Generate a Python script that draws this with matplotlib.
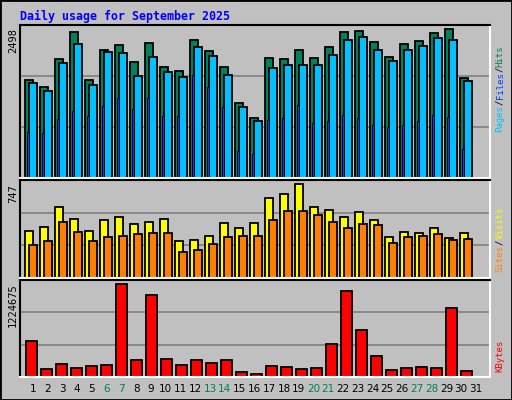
import numpy as np
import matplotlib
matplotlib.use("Agg")
import matplotlib.pyplot as plt

days = list(range(1, 32))
hits = [1652, 1534, 2007, 2447, 1652, 2159, 2227, 1956, 2261, 1872, 1804, 2312, 2126, 1872, 1263, 1010,
        2024, 2007, 2143, 2024, 2193, 2447, 2464, 2278, 2041, 2244, 2295, 2430, 2498, 1686, 0]
files = [1601, 1466, 1940, 2244, 1568, 2109, 2092, 1720, 2041, 1787, 1703, 2193, 2058, 1737, 1196, 959,
         1855, 1906, 1906, 1906, 2075, 2312, 2362, 2159, 1973, 2143, 2210, 2345, 2312, 1635, 0]
pages = [773, 756, 993, 1128, 1043, 1212, 1348, 1162, 1348, 1043, 1043, 1737, 1534, 1196, 451, 401,
         976, 1010, 1229, 925, 959, 1060, 1010, 891, 857, 891, 959, 1060, 1026, 485, 0]
visits = [374, 406, 568, 471, 374, 463, 487, 430, 447, 471, 292, 300, 333, 438, 398, 438,
          633, 666, 747, 568, 544, 487, 528, 463, 325, 365, 357, 398, 317, 357, 0]
sites = [260, 292, 447, 365, 292, 325, 333, 349, 357, 357, 203, 219, 268, 325, 333, 333,
         463, 536, 536, 503, 447, 398, 430, 422, 276, 325, 333, 349, 300, 309, 0]
kbytes = [471000, 108000, 175000, 121000, 148000, 161000, 1224675, 229000, 1077000, 242000, 161000,
          229000, 188000, 229000, 67000, 40000, 148000, 135000, 108000, 121000, 431000, 1130000,
          619000, 283000, 94000, 121000, 135000, 121000, 915000, 81000, 0]
weekend = [6, 7, 13, 14, 20, 21, 27, 28]

W, H = 512, 400
BG = "#C0C0C0"
fig = plt.figure(figsize=(W / 100, H / 100), dpi=100, facecolor=BG)

def px_axes(x0, y0, x1, y1):
    # pixel box (top-left origin) -> figure axes
    ax = fig.add_axes([x0 / W, 1 - y1 / H, (x1 - x0) / W, (y1 - y0) / H])
    ax.set_facecolor(BG)
    ax.set_xticks([])
    ax.set_yticks([])
    for s in ["top", "left"]:
        ax.spines[s].set_color("black")
        ax.spines[s].set_linewidth(1.5)
    for s in ["bottom", "right"]:
        ax.spines[s].set_color("white")
        ax.spines[s].set_linewidth(1.5)
    ax.set_xlim(0, 470 / 15)
    return ax

x = np.arange(31)
mono = "DejaVu Sans Mono"
LW = 1.3

def panel(ax, height_px, max_px, vmax):
    top = vmax * height_px / max_px
    ax.set_ylim(0, top)
    for f in (1 / 3, 2 / 3):
        ax.axhline(top * f, color="#808080", lw=1.2, zorder=0)

# top panel
ax1 = px_axes(20, 25, 490, 178)
panel(ax1, 152, 147.7, max(hits))
ax1.bar(x + 0.333, hits, width=0.52, align="edge", color="#00805C", edgecolor="black", lw=LW)
ax1.bar(x + 0.62, files, width=0.5, align="edge", color="#00C0FF", edgecolor="black", lw=LW)
ax1.bar(x + 0.46, pages, width=0.14, align="edge", color="#0040FF", edgecolor="black", lw=0.7)

# middle panel
ax2 = px_axes(20, 180, 490, 278)
panel(ax2, 96, 92, max(visits))
ax2.bar(x + 0.333, visits, width=0.55, align="edge", color="#FFFF00", edgecolor="black", lw=LW)
ax2.bar(x + 0.62, sites, width=0.5, align="edge", color="#FF8000", edgecolor="black", lw=LW)

# bottom panel
ax3 = px_axes(20, 280, 490, 377)
panel(ax3, 95, 91, max(kbytes))
ax3.bar(x + 0.4, kbytes, width=0.72, align="edge", color="#FF0000", edgecolor="black", lw=LW)

fig.text(20 / W, 1 - 16 / H, "Daily usage for September 2025", color="#0000FF",
         family=mono, weight="bold", fontsize=8.4, va="center", ha="left")

for val, ytop in [(max(hits), 28), (max(visits), 184), (max(kbytes), 283)]:
    fig.text(13 / W, 1 - ytop / H, str(val), rotation=90, family=mono, fontsize=7.5,
             ha="center", va="top")

def side_label(parts, ybottom, fs=6.5):
    step = 0.602 * fs * 100 / 72
    y = ybottom
    for txt, col in parts:
        fig.text(500 / W, 1 - y / H, txt, rotation=90, family=mono, fontsize=fs, color=col,
                 ha="center", va="bottom")
        y -= len(txt) * step

side_label([("Pages", "#00C0FF"), ("/", "black"), ("Files", "#0040FF"), ("/", "black"),
            ("Hits", "#00805C")], 132)
side_label([("Sites", "#FF8000"), ("/", "black"), ("Visits", "#FFFF00")], 272)
side_label([("KBytes", "#FF0000")], 372)

for d in days:
    col = "#00805C" if d in weekend else "black"
    xp = 20 + (d - 1 + 0.87) * 14.77
    fig.text(xp / W, 1 - 389 / H, str(d), color=col, fontsize=7.5, ha="center", va="center")

# outer frame
fig.patches.append(plt.Rectangle((0, 0), 1, 1, transform=fig.transFigure, fill=False,
                                 edgecolor="black", lw=2))

fig.savefig("out.png", dpi=100, facecolor=BG)
